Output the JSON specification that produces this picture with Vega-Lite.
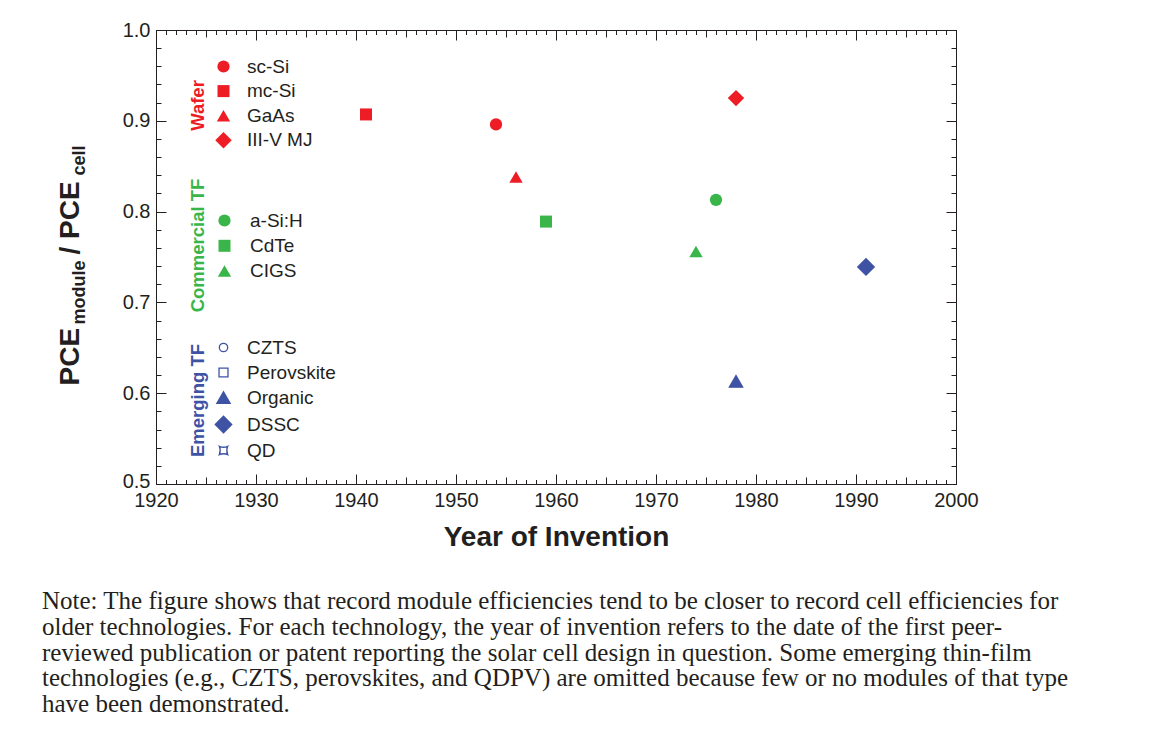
{
  "$schema": "https://vega.github.io/schema/vega-lite/v6.json",
  "width": 800,
  "height": 454,
  "autosize": {"type": "none"},
  "padding": {"left": 156, "top": 30, "right": 200, "bottom": 270},
  "background": "white",
  "title": {
    "text": [
      "Note: The figure shows that record module efficiencies tend to be closer to record cell efficiencies for",
      "older technologies. For each technology, the year of invention refers to the date of the first peer-",
      "reviewed publication or patent reporting the solar cell design in question. Some emerging thin-film",
      "technologies (e.g., CZTS, perovskites, and QDPV) are omitted because few or no modules of that type",
      "have been demonstrated."
    ],
    "orient": "bottom",
    "anchor": "start",
    "frame": "group",
    "font": "Liberation Serif",
    "fontSize": 25,
    "fontWeight": "normal",
    "color": "#231f20",
    "lineHeight": 25.8,
    "baseline": "top",
    "dx": -114,
    "offset": 38
  },
  "data": {
    "values": [
      {"tech": "sc-Si", "group": "Wafer", "year": 1954, "ratio": 0.896},
      {"tech": "mc-Si", "group": "Wafer", "year": 1941, "ratio": 0.907},
      {"tech": "GaAs", "group": "Wafer", "year": 1956, "ratio": 0.838},
      {"tech": "III-V MJ", "group": "Wafer", "year": 1978, "ratio": 0.925},
      {"tech": "a-Si:H", "group": "Commercial TF", "year": 1976, "ratio": 0.813},
      {"tech": "CdTe", "group": "Commercial TF", "year": 1959, "ratio": 0.789},
      {"tech": "CIGS", "group": "Commercial TF", "year": 1974, "ratio": 0.756},
      {"tech": "Organic", "group": "Emerging TF", "year": 1978, "ratio": 0.613},
      {"tech": "DSSC", "group": "Emerging TF", "year": 1991, "ratio": 0.739}
    ]
  },
  "layer": [
    {
      "transform": [{"filter": "datum.group === 'Wafer'"}],
      "mark": {"type": "point", "filled": true, "opacity": 1},
      "encoding": {
        "x": {"field": "year", "type": "quantitative", "scale": {"domain": [1920, 2000], "nice": false, "zero": false},
          "axis": {"orient": "bottom", "values": [1920, 1930, 1940, 1950, 1960, 1970, 1980, 1990, 2000], "format": "d", "tickSize": -10, "labelPadding": 16, "labels": true,
            "title": "Year of Invention", "titleX": 400, "titleY": 61, "titleAlign": "center", "titleBaseline": "alphabetic", "titleAngle": 0, "titleFontSize": 28}},
        "y": {"field": "ratio", "type": "quantitative", "scale": {"domain": [0.5, 1.0], "nice": false, "zero": false},
          "axis": {"orient": "left", "values": [0.5, 0.6, 0.7, 0.8, 0.9, 1.0], "format": ".1f", "tickSize": -10, "labelPadding": 16, "labels": true,
            "labelOffset": {"condition": {"test": "datum.value < 0.55", "value": -3}, "value": 0},
            "title": "PCE", "titleX": -78, "titleY": 355, "titleAngle": 270, "titleAlign": "left", "titleBaseline": "alphabetic", "titleFontSize": 28}},
        "color": {"field": "tech", "type": "nominal",
          "scale": {"domain": ["sc-Si", "mc-Si", "GaAs", "III-V MJ"], "range": ["#ee1c25", "#ee1c25", "#ee1c25", "#ee1c25"]},
          "legend": {"title": null, "orient": "none", "legendX": 58, "legendY": 27, "rowPadding": 4.6, "labelOffset": 14}},
        "shape": {"field": "tech", "type": "nominal",
          "scale": {"domain": ["sc-Si", "mc-Si", "GaAs", "III-V MJ"], "range": ["circle", "square", "triangle-up", "diamond"]},
          "legend": {"title": null, "orient": "none", "legendX": 58, "legendY": 27, "rowPadding": 4.6, "labelOffset": 14}},
        "size": {"field": "tech", "type": "nominal",
          "scale": {"type": "ordinal", "domain": ["sc-Si", "mc-Si", "GaAs", "III-V MJ"], "range": [150, 144, 177, 270]},
          "legend": {"title": null, "orient": "none", "legendX": 58, "legendY": 27, "rowPadding": 4.6, "labelOffset": 14}}
      }
    },
    {
      "transform": [{"filter": "datum.group === 'Commercial TF'"}],
      "mark": {"type": "point", "filled": true, "opacity": 1},
      "encoding": {
        "x": {"field": "year", "type": "quantitative", "scale": {"domain": [1920, 2000], "nice": false, "zero": false},
          "axis": {"orient": "bottom", "values": [1925, 1935, 1945, 1955, 1965, 1975, 1985, 1995], "tickSize": -7, "labels": false,
            "title": "Wafer", "titleX": 47, "titleY": -379, "titleAngle": 270, "titleAlign": "center", "titleBaseline": "alphabetic", "titleFontSize": 18.5, "titleColor": "#ee1c25"}},
        "y": {"field": "ratio", "type": "quantitative", "scale": {"domain": [0.5, 1.0], "nice": false, "zero": false},
          "axis": {"orient": "left", "values": [0.5, 0.52, 0.54, 0.56, 0.58, 0.6, 0.62, 0.64, 0.66, 0.68, 0.7, 0.72, 0.74, 0.76, 0.78, 0.8, 0.82, 0.84, 0.86, 0.88, 0.9, 0.92, 0.94, 0.96, 0.98, 1.0], "tickSize": -5, "labels": false,
            "title": "module", "titleX": -72, "titleY": 294, "titleAngle": 270, "titleAlign": "left", "titleBaseline": "alphabetic", "titleFontSize": 18}},
        "color": {"field": "tech", "type": "nominal",
          "scale": {"domain": ["a-Si:H", "CdTe", "CIGS"], "range": ["#3ab54a", "#3ab54a", "#3ab54a"]},
          "legend": {"title": null, "orient": "none", "legendX": 59, "legendY": 181, "rowPadding": 5.3, "labelOffset": 16}},
        "shape": {"field": "tech", "type": "nominal",
          "scale": {"domain": ["a-Si:H", "CdTe", "CIGS"], "range": ["circle", "square", "triangle-up"]},
          "legend": {"title": null, "orient": "none", "legendX": 59, "legendY": 181, "rowPadding": 5.3, "labelOffset": 16}},
        "size": {"field": "tech", "type": "nominal",
          "scale": {"type": "ordinal", "domain": ["a-Si:H", "CdTe", "CIGS"], "range": [150, 144, 177]},
          "legend": {"title": null, "orient": "none", "legendX": 59, "legendY": 181, "rowPadding": 5.3, "labelOffset": 16}}
      }
    },
    {
      "transform": [{"filter": "datum.group === 'Emerging TF'"}],
      "mark": {"type": "point", "filled": true, "opacity": 1, "strokeWidth": 1.3},
      "encoding": {
        "x": {"field": "year", "type": "quantitative", "scale": {"domain": [1920, 2000], "nice": false, "zero": false},
          "axis": {"orient": "bottom", "values": [1920, 1921, 1922, 1923, 1924, 1925, 1926, 1927, 1928, 1929, 1930, 1931, 1932, 1933, 1934, 1935, 1936, 1937, 1938, 1939, 1940, 1941, 1942, 1943, 1944, 1945, 1946, 1947, 1948, 1949, 1950, 1951, 1952, 1953, 1954, 1955, 1956, 1957, 1958, 1959, 1960, 1961, 1962, 1963, 1964, 1965, 1966, 1967, 1968, 1969, 1970, 1971, 1972, 1973, 1974, 1975, 1976, 1977, 1978, 1979, 1980, 1981, 1982, 1983, 1984, 1985, 1986, 1987, 1988, 1989, 1990, 1991, 1992, 1993, 1994, 1995, 1996, 1997, 1998, 1999, 2000], "tickSize": -4.5, "labels": false,
            "title": "Commercial TF", "titleX": 47, "titleY": -239, "titleAngle": 270, "titleAlign": "center", "titleBaseline": "alphabetic", "titleFontSize": 18.5, "titleColor": "#3ab54a"}},
        "y": {"field": "ratio", "type": "quantitative", "scale": {"domain": [0.5, 1.0], "nice": false, "zero": false},
          "axis": {"orient": "right", "values": [0.5, 0.6, 0.7, 0.8, 0.9, 1.0], "tickSize": -10, "labels": false,
            "title": "/ PCE", "titleX": -878, "titleY": 224, "titleAngle": 270, "titleAlign": "left", "titleBaseline": "alphabetic", "titleFontSize": 28}},
        "fill": {"field": "tech", "type": "nominal",
          "scale": {"domain": ["CZTS", "Perovskite", "Organic", "DSSC", "QD"], "range": ["white", "white", "#3f53a5", "#3f53a5", "white"]},
          "legend": {"title": null, "orient": "none", "legendX": 58, "legendY": 308, "rowPadding": 5, "labelOffset": 14}},
        "stroke": {"field": "tech", "type": "nominal",
          "scale": {"domain": ["CZTS", "Perovskite", "Organic", "DSSC", "QD"], "range": ["#3f53a5", "#3f53a5", "#3f53a5", "#3f53a5", "#3f53a5"]},
          "legend": {"title": null, "orient": "none", "legendX": 58, "legendY": 308, "rowPadding": 5, "labelOffset": 14}},
        "shape": {"field": "tech", "type": "nominal",
          "scale": {"domain": ["CZTS", "Perovskite", "Organic", "DSSC", "QD"], "range": ["circle", "square", "triangle-up", "diamond", "M-1,-1Q0,-0.55,1,-1Q0.55,0,1,1Q0,0.55,-1,1Q-0.55,0,-1,-1Z"]},
          "legend": {"title": null, "orient": "none", "legendX": 58, "legendY": 308, "rowPadding": 5, "labelOffset": 14}},
        "size": {"field": "tech", "type": "nominal",
          "scale": {"type": "ordinal", "domain": ["CZTS", "Perovskite", "Organic", "DSSC", "QD"], "range": [70, 80, 177, 270, 70]},
          "legend": {"title": null, "orient": "none", "legendX": 58, "legendY": 308, "rowPadding": 5, "labelOffset": 14}}
      }
    },
    {
      "mark": {"type": "point", "opacity": 0},
      "encoding": {
        "x": {"field": "year", "type": "quantitative", "scale": {"domain": [1920, 2000], "nice": false, "zero": false},
          "axis": {"orient": "top", "values": [1920, 1930, 1940, 1950, 1960, 1970, 1980, 1990, 2000], "tickSize": -10, "labels": false, "title": null}},
        "y": {"field": "ratio", "type": "quantitative", "scale": {"domain": [0.5, 1.0], "nice": false, "zero": false},
          "axis": {"orient": "right", "values": [0.5, 0.52, 0.54, 0.56, 0.58, 0.6, 0.62, 0.64, 0.66, 0.68, 0.7, 0.72, 0.74, 0.76, 0.78, 0.8, 0.82, 0.84, 0.86, 0.88, 0.9, 0.92, 0.94, 0.96, 0.98, 1.0], "tickSize": -5, "labels": false,
            "title": "cell", "titleX": -872, "titleY": 145, "titleAngle": 270, "titleAlign": "left", "titleBaseline": "alphabetic", "titleFontSize": 18}}
      }
    },
    {
      "mark": {"type": "point", "opacity": 0},
      "encoding": {
        "x": {"field": "year", "type": "quantitative", "scale": {"domain": [1920, 2000], "nice": false, "zero": false},
          "axis": {"orient": "top", "values": [1925, 1935, 1945, 1955, 1965, 1975, 1985, 1995], "tickSize": -7, "labels": false,
            "title": "Emerging TF", "titleX": 47, "titleY": 370, "titleAngle": 270, "titleAlign": "center", "titleBaseline": "alphabetic", "titleFontSize": 18.5, "titleColor": "#3f53a5"}},
        "y": {"field": "ratio", "type": "quantitative", "scale": {"domain": [0.5, 1.0], "nice": false, "zero": false}, "axis": null}
      }
    },
    {
      "mark": {"type": "point", "opacity": 0},
      "encoding": {
        "x": {"field": "year", "type": "quantitative", "scale": {"domain": [1920, 2000], "nice": false, "zero": false},
          "axis": {"orient": "top", "values": [1920, 1921, 1922, 1923, 1924, 1925, 1926, 1927, 1928, 1929, 1930, 1931, 1932, 1933, 1934, 1935, 1936, 1937, 1938, 1939, 1940, 1941, 1942, 1943, 1944, 1945, 1946, 1947, 1948, 1949, 1950, 1951, 1952, 1953, 1954, 1955, 1956, 1957, 1958, 1959, 1960, 1961, 1962, 1963, 1964, 1965, 1966, 1967, 1968, 1969, 1970, 1971, 1972, 1973, 1974, 1975, 1976, 1977, 1978, 1979, 1980, 1981, 1982, 1983, 1984, 1985, 1986, 1987, 1988, 1989, 1990, 1991, 1992, 1993, 1994, 1995, 1996, 1997, 1998, 1999, 2000], "tickSize": -4.5, "labels": false, "title": null}},
        "y": {"field": "ratio", "type": "quantitative", "scale": {"domain": [0.5, 1.0], "nice": false, "zero": false}, "axis": null}
      }
    }
  ],
  "resolve": {
    "scale": {"x": "independent", "y": "independent", "color": "independent", "shape": "independent", "size": "independent", "fill": "independent", "stroke": "independent"},
    "axis": {"x": "independent", "y": "independent"},
    "legend": {"color": "independent", "shape": "independent", "size": "independent", "fill": "independent", "stroke": "independent"}
  },
  "config": {
    "view": {"stroke": "#231f20", "strokeWidth": 1},
    "axis": {
      "domain": false, "grid": false, "tickColor": "#231f20", "tickWidth": 1,
      "labelFont": "Liberation Sans", "labelFontSize": 20, "labelColor": "#231f20",
      "labelFlush": false, "labelOverlap": false, "labelBound": false,
      "titleFont": "Liberation Sans", "titleFontWeight": "bold", "titleColor": "#231f20"
    },
    "legend": {
      "labelFont": "Liberation Sans", "labelFontSize": 19, "labelColor": "#231f20",
      "padding": 0, "rowPadding": 6, "labelOffset": 12, "symbolStrokeWidth": 1.3, "offset": 0
    }
  }
}
